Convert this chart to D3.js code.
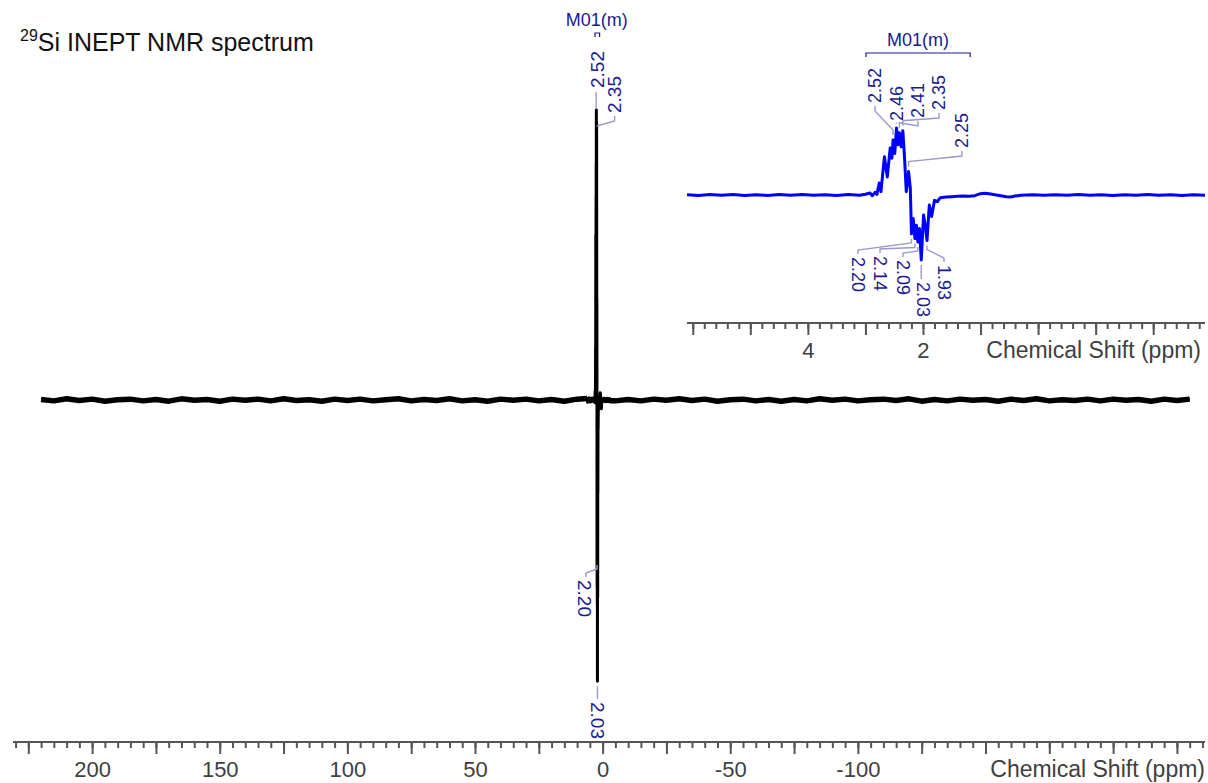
<!DOCTYPE html>
<html><head><meta charset="utf-8">
<script src="https://cdn.jsdelivr.net/npm/d3@7"></script>
<style>body{margin:0;background:#fff} text{font-family:"Liberation Sans",Arial,sans-serif}</style>
</head><body><svg id="c" width="1208" height="783"></svg>
<script>
// ---------- data ----------
const titleSup = "29";
const titleMain = "Si INEPT NMR spectrum";
const axisTitle = "Chemical Shift (ppm)";
const mainTickLabels = ["200","150","100","50","0","-50","-100"];
const insetTickLabels = ["4","2"];
const multipletLabel = "M01(m)";
const multipletRange = [2.99, 1.18];
const mainPeakLabels = ["2.52","2.35","2.20","2.03"];
const insetPeakLabelsUp = ["2.52","2.46","2.41","2.35","2.25"];
const insetPeakLabelsDown = ["2.20","2.14","2.09","2.03","1.93"];
// baseline noise of the full spectrum, one value every 5 ppm from 220 to -230
const noiseValues = [0.002,-0.003,0.004,-0.002,0.003,-0.004,0.001,0.003,-0.003,0.002,
 -0.004,0.004,-0.001,0.002,-0.004,0.003,-0.001,0.003,-0.003,0.004,
 -0.002,0.001,-0.004,0.003,-0.002,0.003,-0.003,0.001,0.004,-0.003,
 0.002,-0.002,0.004,-0.003,0.001,-0.004,0.003,-0.001,0.003,-0.003,
 0.002,-0.004,0.003,-0.002,0.004,-0.003,0.002,-0.003,0.003,-0.001,
 0.004,-0.002,0.003,-0.004,0.001,0.003,-0.003,0.002,-0.004,0.002,
 -0.003,0.004,-0.001,0.003,-0.003,0.001,0.003,-0.002,0.004,-0.004,
 0.002,-0.003,0.003,-0.001,0.002,-0.004,0.003,-0.002,0.004,-0.003,
 0.001,-0.002,0.003,-0.003,0.003,-0.001,0.002,-0.004,0.003,-0.002,0.003];
// expanded multiplet region [ppm, intensity]
const insetSpectrum = [[6.1,0.005],[5.9,-0.008],[5.7,0.006],[5.5,-0.004],[5.3,0.008],[5.1,-0.006],
 [4.9,0.004],[4.7,-0.007],[4.5,0.006],[4.3,-0.005],[4.1,0.007],[3.9,-0.004],[3.7,0.005],
 [3.5,-0.006],[3.3,0.008],[3.1,-0.003],[3.0,0.012],[2.92,0.03],[2.88,-0.01],[2.83,0.04],
 [2.80,0.01],[2.76,0.18],[2.73,0.05],[2.67,0.57],[2.62,0.27],[2.57,0.7],[2.54,0.55],
 [2.52,0.82],[2.49,0.62],[2.46,1.0],[2.435,0.75],[2.41,0.93],[2.38,0.72],[2.35,0.96],
 [2.32,0.55],[2.29,0.05],[2.25,0.35],[2.22,0.1],[2.20,-0.58],[2.17,-0.35],[2.14,-0.65],
 [2.115,-0.45],[2.09,-0.7],[2.06,-0.5],[2.03,-0.97],[1.99,-0.3],[1.96,-0.45],[1.93,-0.68],
 [1.89,-0.15],[1.85,-0.32],[1.80,-0.08],[1.75,-0.1],[1.70,-0.04],[1.6,-0.03],[1.5,-0.025],
 [1.4,-0.02],[1.3,-0.015],[1.2,-0.02],[1.1,-0.01],[1.0,0.02],[0.93,0.025],[0.85,0.02],
 [0.75,0.005],[0.65,-0.01],[0.55,-0.025],[0.48,-0.03],[0.4,-0.015],[0.3,-0.005],[0.1,0.004],
 [-0.1,-0.003],[-0.3,0.005],[-0.5,-0.004],[-0.7,0.006],[-0.9,-0.005],[-1.1,0.004],
 [-1.3,-0.006],[-1.5,0.005],[-1.7,-0.004],[-1.9,0.006],[-2.1,-0.005],[-2.3,0.004],
 [-2.5,-0.006],[-2.7,0.005],[-2.9,-0.003]];

// ---------- layout ----------
const svg = d3.select("#c");
const labelColor = "#1a1a8e", connColor = "#9a9acb", axisColor = "#555", tickTextColor = "#404040";
const xMain = d3.scaleLinear().domain([231,-236]).range([13,1205]);
const yMain = d3.scaleLinear().domain([-1,1]).range([690,110]);
const xIn = d3.scaleLinear().domain([6.1,-2.9]).range([687,1205]);
const yIn = d3.scaleLinear().domain([-1,1]).range([262,128]);
const valAt = p => { const d = insetSpectrum.find(e=>Math.abs(e[0]-p)<1e-9); return d?d[1]:0; };

// title
const t = svg.append("text").attr("x",20).attr("y",51).attr("fill","#111");
t.append("tspan").attr("font-size",16).attr("dy",-10).text(titleSup);
t.append("tspan").attr("font-size",25).attr("dy",10).text(titleMain);

// axes
function drawAxis(x, y0, minor, major, labels, pad){
  const g = svg.append("g").attr("transform",`translate(0,${y0})`);
  g.append("g").call(d3.axisBottom(x).tickValues(minor).tickSize(6).tickFormat(""));
  g.append("g").call(d3.axisBottom(x).tickValues(major).tickSize(12).tickPadding(pad)
     .tickFormat(d=>labels.includes(String(d))?String(d):""));
  g.selectAll("path.domain").remove();
  g.append("line").attr("x1",x.range()[0]).attr("x2",x.range()[1]).attr("stroke",axisColor).attr("stroke-width",2);
  g.selectAll(".tick line").attr("stroke",axisColor).attr("stroke-width",2);
  g.selectAll(".tick text").attr("fill",tickTextColor).attr("font-size",22)
    .attr("font-family",'"Liberation Sans",Arial,sans-serif');
  return g;
}
const mainMinor = d3.range(230,-236,-5);
drawAxis(xMain, 742, mainMinor, mainMinor.filter(v=>v%25===0), mainTickLabels, 7);
svg.append("text").attr("x",1205).attr("y",777).attr("text-anchor","end").attr("font-size",23)
  .attr("fill",tickTextColor).text(axisTitle);
const inMinor = d3.range(30,-15,-1).map(i=>i/5);
drawAxis(xIn, 323, inMinor, inMinor.filter(v=>Number.isInteger(v)), insetTickLabels, 7);
svg.append("text").attr("x",1201).attr("y",358).attr("text-anchor","end").attr("font-size",23)
  .attr("fill",tickTextColor).text(axisTitle);

// spectra
const noisePts = d3.range(220,-231,-5).map((p,i)=>[p,noiseValues[i]||0]);
const leftNoise = noisePts.filter(d=>d[0]>7), rightNoise = noisePts.filter(d=>d[0]<-4);
const mainData = leftNoise.concat(insetSpectrum, rightNoise);
const lineMain = d3.line().x(d=>xMain(d[0])).y(d=>yMain(d[1]));
svg.append("path").datum(mainData).attr("fill","none").attr("stroke","#000").attr("stroke-width",3)
  .attr("stroke-linejoin","round").attr("d",lineMain);
[leftNoise.concat([insetSpectrum[0]]), [insetSpectrum[insetSpectrum.length-1]].concat(rightNoise)].forEach(seg=>{
  svg.append("path").datum(seg).attr("fill","none").attr("stroke","#000").attr("stroke-width",5.5)
    .attr("stroke-linejoin","round").attr("d",lineMain);
});
svg.append("path").datum(insetSpectrum).attr("fill","none").attr("stroke","#0000ff").attr("stroke-width",3)
  .attr("stroke-linejoin","round").attr("d",d3.line().x(d=>xIn(d[0])).y(d=>yIn(d[1])));

// annotation helpers
const line = d3.line();
function conn(pts){ svg.append("path").attr("d",line(pts)).attr("fill","none").attr("stroke",connColor).attr("stroke-width",1.4); }
function vText(str, cx, yEnd, up, size){
  svg.append("text").attr("transform",`translate(${cx},${yEnd}) rotate(${up?-90:90})`)
    .attr("dy","0.35em").attr("font-size",size).attr("fill",labelColor).text(str);
}
function multiplet(x, cx, by, ty, size){
  svg.append("text").attr("x",cx).attr("y",ty).attr("text-anchor","middle").attr("font-size",size)
    .attr("fill",labelColor).text(multipletLabel);
  const a = x(multipletRange[0]), b = x(multipletRange[1]);
  svg.append("path").attr("d",line([[a,by+4],[a,by],[b,by],[b,by+4]])).attr("fill","none")
    .attr("stroke",labelColor).attr("stroke-width",1.2);
}

// main annotations
const pm = p => xMain(+p);
multiplet(xMain, pm(2.3), 33, 26, 18);
{
  const p0 = pm(mainPeakLabels[0]); conn([[p0,108],[p0,92]]); vText(mainPeakLabels[0], p0+1, 88, true, 19);
  const p1 = pm(mainPeakLabels[1]); conn([[p1,126],[p1+18,121],[p1+18,116]]); vText(mainPeakLabels[1], p1+18, 113, true, 19);
  const p2 = pm(mainPeakLabels[2]); conn([[p2,565],[p2,569],[p2-11,573],[p2-11,577]]); vText(mainPeakLabels[2], p2-12, 580, false, 19);
  const p3 = pm(mainPeakLabels[3]); conn([[p3,686],[p3,699]]); vText(mainPeakLabels[3], p3, 702, false, 19);
}

// inset annotations
multiplet(xIn, 918, 53, 46, 18);
const upX = [875,897,918,939,962], upEnd = [103,121,118,110,148];
insetPeakLabelsUp.forEach((s,i)=>{
  const px = xIn(+s), py = yIn(valAt(+s)) - 5;
  const lx = upX[i], ly = upEnd[i] + 3;
  if (Math.abs(lx-px) < 3) conn([[px,ly],[px,py]]);
  else conn([[lx,ly],[lx,ly+5],[px,py-5],[px,py]]);
  vText(s, lx, upEnd[i], true, 18);
});
const dnX = [858,880,903,923,944], dnTop = [257,256,260,282,265];
insetPeakLabelsDown.forEach((s,i)=>{
  const px = xIn(+s), py = yIn(valAt(+s)) + 5;
  const lx = dnX[i], ly = dnTop[i] - 3;
  if (Math.abs(lx-px) < 3) conn([[px,py],[px,ly]]);
  else conn([[lx,ly],[lx,ly-4],[px,py+4],[px,py]]);
  vText(s, lx, dnTop[i], false, 18);
});
</script></body></html>
